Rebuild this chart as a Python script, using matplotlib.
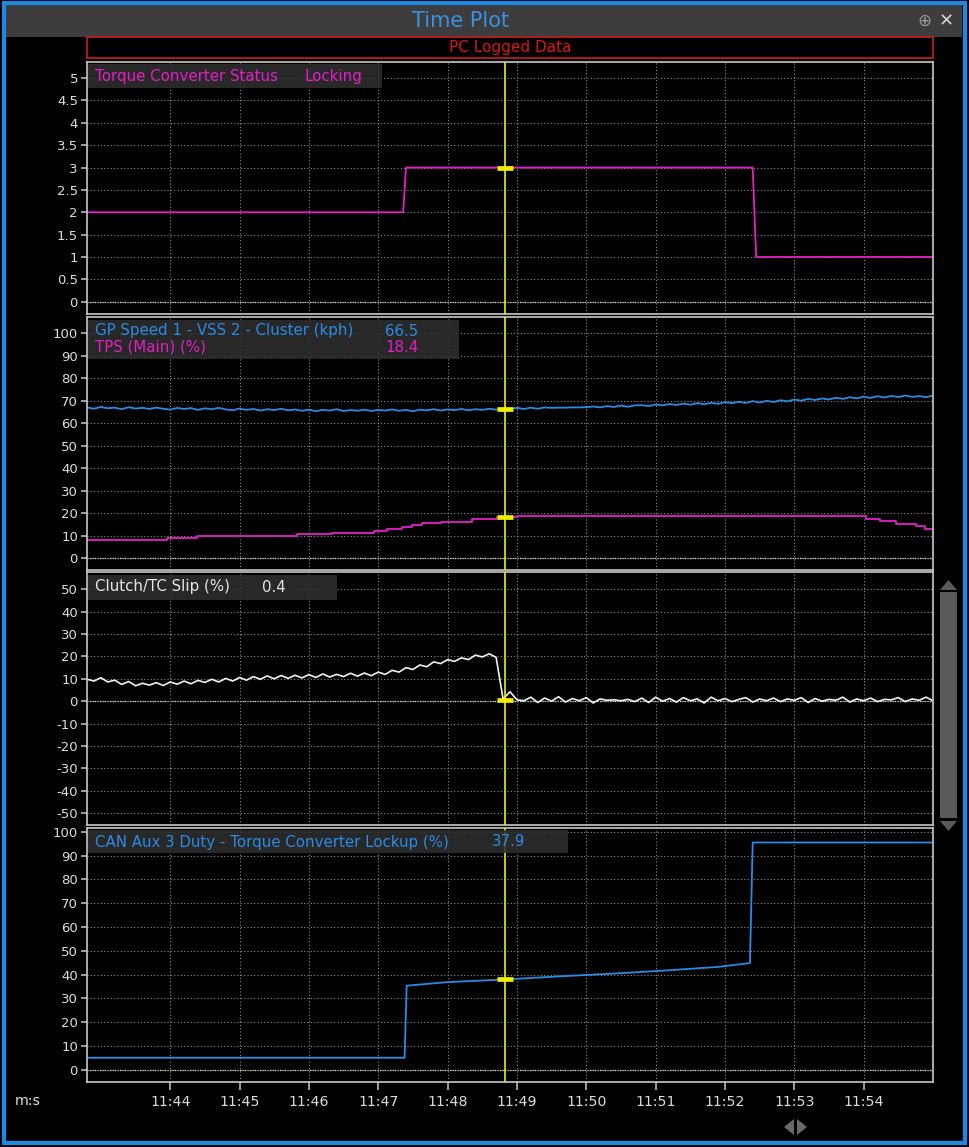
import numpy as np
import matplotlib
matplotlib.use("Agg")
import matplotlib.pyplot as plt
from matplotlib.patches import Rectangle, Polygon
from matplotlib.ticker import FuncFormatter

plt.rcParams['font.family'] = ['DejaVu Sans']

# ---- data (time in seconds, labels shown as m:s) ----
x_min, x_max = 702.8, 715.0
time_ticks = [704, 705, 706, 707, 708, 709, 710, 711, 712, 713, 714]
cursor_t = 708.83

# Torque converter status (step signal)
status_t = [702.8, 707.36, 707.40, 712.40, 712.45, 715.0]
status_v = [2, 2, 3, 3, 1, 1]

# logged at 10 Hz
sample_t0 = 702.8
sample_dt = 0.1
speed_v = [67.0, 66.4, 67.2, 66.6, 66.9, 66.2, 67.1, 66.5, 66.8, 66.3,
           66.9, 66.4, 66.0, 66.8, 66.3, 66.7, 65.9, 66.6, 66.2, 66.8,
           66.1, 65.7, 66.5, 65.9, 66.3, 65.6, 66.2, 65.8, 66.4, 65.7,
           66.1, 65.5, 66.0, 65.3, 65.9, 65.6, 66.2, 65.4, 65.8, 65.5,
           66.0, 65.4, 65.9, 65.6, 66.1, 65.5, 65.9, 65.3, 66.0, 65.7,
           66.2, 65.6, 66.1, 65.8, 66.3, 65.7, 66.2, 65.9, 66.4, 66.0,
           66.5, 66.2, 66.8, 66.3, 66.9, 66.4, 67.0, 66.8, 66.9, 66.9,
           67.0, 67.0, 67.1, 67.4, 67.0, 67.6, 67.2, 67.8, 67.3, 67.9,
           68.0, 67.6, 68.3, 67.9, 68.5, 68.1, 68.7, 68.2, 68.9, 68.4,
           69.0, 68.6, 69.3, 68.9, 69.5, 69.0, 69.8, 69.2, 69.9, 69.4,
           70.2, 69.7, 70.5, 70.0, 70.8, 70.3, 71.0, 70.5, 71.3, 70.8,
           71.5, 71.0, 71.8, 71.2, 72.0, 71.4, 72.1, 71.6, 72.3, 71.7,
           72.0, 71.6, 72.2]
slip_v = [9.8, 9.0, 10.5, 8.6, 9.4, 7.5, 8.8, 6.9, 8.0, 7.2,
          8.3, 7.0, 8.6, 7.6, 9.0, 7.8, 9.3, 8.4, 9.8, 8.6,
          10.2, 9.0, 10.6, 9.4, 11.0, 9.8, 11.3, 10.0, 11.5, 10.2,
          11.6, 10.4, 11.9, 10.6, 12.2, 10.8, 12.0, 11.0, 12.5, 11.2,
          12.6, 11.4, 13.0, 12.0, 13.8, 13.0, 15.0, 14.2, 16.2, 15.4,
          17.6, 16.8, 18.6, 17.8, 19.4, 18.6, 20.6, 19.8, 21.2, 19.6,
          1.0, 4.2, 0.6, 0.2, 1.8, -0.6, 1.4, 0.0, 2.0, -0.4,
          1.2, 0.2, 1.6, -0.8, 1.0, 0.4, 0.6, 0.2, 0.8, -0.2,
          1.4, -0.6, 1.8, 0.0, 1.2, -0.4, 1.6, 0.2, 1.0, -0.8,
          1.8, 0.2, 1.2, -0.2, 0.8, 1.6, -0.4, 1.0, 0.2, 1.4,
          -0.2, 1.0, 0.4, 1.6, -0.6, 1.2, 0.0, 0.8, 0.4, 1.8,
          -0.4, 1.0, 0.2, 1.4, -0.2, 0.8, 0.6, 1.6, -0.2, 1.0,
          0.4, 1.8, 0.2]

# TPS (main), step signal
tps_t = [702.8, 703.96, 704.39, 704.82, 705.83, 706.33, 706.94, 707.12, 707.34,
         707.48, 707.63, 707.91, 708.35, 708.71, 709.0, 713.81, 714.03, 714.24,
         714.46, 714.75, 714.89, 715.0]
tps_v = [8.0, 9.0, 9.8, 10.0, 10.6, 11.0, 12.2, 13.0, 13.8, 14.6, 15.4, 16.2,
         17.6, 18.4, 18.8, 18.6, 17.6, 16.4, 15.2, 14.2, 12.8, 11.6]

# CAN Aux 3 duty - TC lockup
duty_t = [702.8, 707.38, 707.41, 708.0, 708.83, 709.6, 710.4, 711.2, 711.9,
          712.36, 712.40, 715.0]
duty_v = [5, 5, 35.3, 36.8, 37.9, 39.2, 40.4, 41.8, 43.2, 44.8, 95.5, 95.5]

sample_t = sample_t0 + sample_dt * np.arange(len(speed_v))

MAGENTA = '#e61ec8'
BLUE = '#2a8be6'
YELLOW = '#eeee00'

W, H = 969, 1147
fig = plt.figure(figsize=(W / 100, H / 100), dpi=100, facecolor='black')


def px_rect(x0, y0, x1, y1):
    return [x0 / W, 1 - y1 / H, (x1 - x0) / W, (y1 - y0) / H]


def style_panel(ax, ylim, yticks):
    ax.set_facecolor('black')
    ax.set_xlim(x_min, x_max)
    ax.set_ylim(*ylim)
    ax.set_yticks(yticks)
    ax.set_xticks(time_ticks)
    ax.grid(True, color='#8c8c8c', linestyle=(0, (1, 2)), linewidth=0.8)
    ax.axhline(0, color='#e6e6e6', linestyle=(0, (1, 1)), lw=0.9, zorder=1)
    for sp in ax.spines.values():
        sp.set_color('#c8c8c8')
        sp.set_linewidth(1.2)
    ax.tick_params(axis='y', colors='#c8c8c8', labelcolor='#dcdcdc',
                   length=4.5, width=1.1, labelsize=9.5, pad=2)
    ax.tick_params(axis='x', bottom=False, labelbottom=False)
    ax.yaxis.set_major_formatter(FuncFormatter(lambda v, p: f'{v:g}'))
    ax.axvline(cursor_t, color=YELLOW, lw=1.2, zorder=4)


def cursor_mark(ax, val):
    ax.plot([cursor_t], [val], marker='_', ms=11, mew=3.4, color=YELLOW, zorder=5)


ax1 = fig.add_axes(px_rect(87, 62, 933, 314))
style_panel(ax1, (-0.275, 5.36), np.arange(0, 5.01, 0.5))
ax1.plot(status_t, status_v, color=MAGENTA, lw=1.3)
cursor_mark(ax1, 3)

ax2 = fig.add_axes(px_rect(87, 317, 933, 570))
style_panel(ax2, (-5.3, 107.2), np.arange(0, 101, 10))
ax2.plot(sample_t, speed_v, color=BLUE, lw=1.3)
ax2.plot(tps_t, tps_v, color=MAGENTA, lw=1.3, drawstyle='steps-post')
cursor_mark(ax2, 66.5)
cursor_mark(ax2, 18.4)

ax3 = fig.add_axes(px_rect(87, 572, 933, 825))
style_panel(ax3, (-55.4, 57.8), np.arange(-50, 51, 10))
ax3.plot(sample_t, slip_v, color='#f0f0f0', lw=1.2)
cursor_mark(ax3, 0.4)

ax4 = fig.add_axes(px_rect(87, 828, 933, 1082))
style_panel(ax4, (-5.2, 101.6), np.arange(0, 101, 10))
ax4.plot(duty_t, duty_v, color=BLUE, lw=1.3)
cursor_mark(ax4, 37.9)
ax4.tick_params(axis='x', bottom=True, labelbottom=True, colors='#c8c8c8',
                labelcolor='#dcdcdc', length=5.5, width=1.1, labelsize=10.2, pad=4)
ax4.xaxis.set_major_formatter(FuncFormatter(lambda v, p: f'{int(v // 60)}:{int(round(v % 60)):02d}'))

# ---- window chrome and legends (pixel coordinates) ----
ov = fig.add_axes([0, 0, 1, 1])
ov.set_xlim(0, W)
ov.set_ylim(H, 0)
ov.axis('off')
ov.patch.set_alpha(0)

ov.add_patch(Rectangle((6, 5), 956, 32, fc='#3d3d3d', ec='none'))
ov.add_patch(Rectangle((4, 3), 961, 1140, fc='none', ec='#1e88e5', lw=3))
ov.text(461, 21, 'Time Plot', color='#3a8fe6', fontsize=15, ha='center', va='center')
ov.text(924, 21, '⊕', color='#9a9a9a', fontsize=12, ha='center', va='center')
ov.text(946, 21, '✕', color='#d0d0d0', fontsize=13, ha='center', va='center', fontweight='bold')

ov.add_patch(Rectangle((87, 37), 846, 21, fc='black', ec='#c81e1e', lw=1.2))
ov.text(510, 47.5, 'PC Logged Data', color='#e01414', fontsize=11, ha='center', va='center')

legends = [
    ((87, 64, 381, 88), [(76, 'Torque Converter Status', 'Locking', 305, MAGENTA)]),
    ((87, 320, 458, 359), [(331, 'GP Speed 1 - VSS 2 - Cluster (kph)', '66.5', 385, BLUE),
                           (347, 'TPS (Main) (%)', '18.4', 385, MAGENTA)]),
    ((87, 575, 336, 600), [(587, 'Clutch/TC Slip (%)', '0.4', 262, '#e6e6e6')]),
    ((87, 830, 567, 853), [(842, 'CAN Aux 3 Duty - Torque Converter Lockup (%)', '37.9', 492, BLUE)]),
]
for (x0, y0, x1, y1), rows in legends:
    ov.add_patch(Rectangle((x0 + 1, y0), x1 - x0, y1 - y0, fc='#2e2e2e', ec='none', alpha=0.88))
    for ty, name, val, vx, col in rows:
        ov.text(95, ty, name, color=col, fontsize=10.8, va='center', ha='left')
        ov.text(vx, ty, val, color=col, fontsize=10.8, va='center', ha='left')

ov.text(28, 1101, 'm:s', color='#dcdcdc', fontsize=10.2, ha='center', va='center')

# scrollbar
ov.add_patch(Rectangle((940, 592), 17, 226, fc='#5a5a5a', ec='none'))
ov.add_patch(Polygon([(940, 590), (957, 590), (948.5, 580)], fc='#5a5a5a', ec='none'))
ov.add_patch(Polygon([(940, 821), (957, 821), (948.5, 831)], fc='#5a5a5a', ec='none'))

# bottom scroll icon
ov.add_patch(Polygon([(784, 1127), (794, 1119), (794, 1135)], fc='#6a6a6a', ec='none'))
ov.add_patch(Polygon([(807, 1127), (797, 1119), (797, 1135)], fc='#6a6a6a', ec='none'))

fig.savefig('out.png', dpi=100, facecolor='black')
